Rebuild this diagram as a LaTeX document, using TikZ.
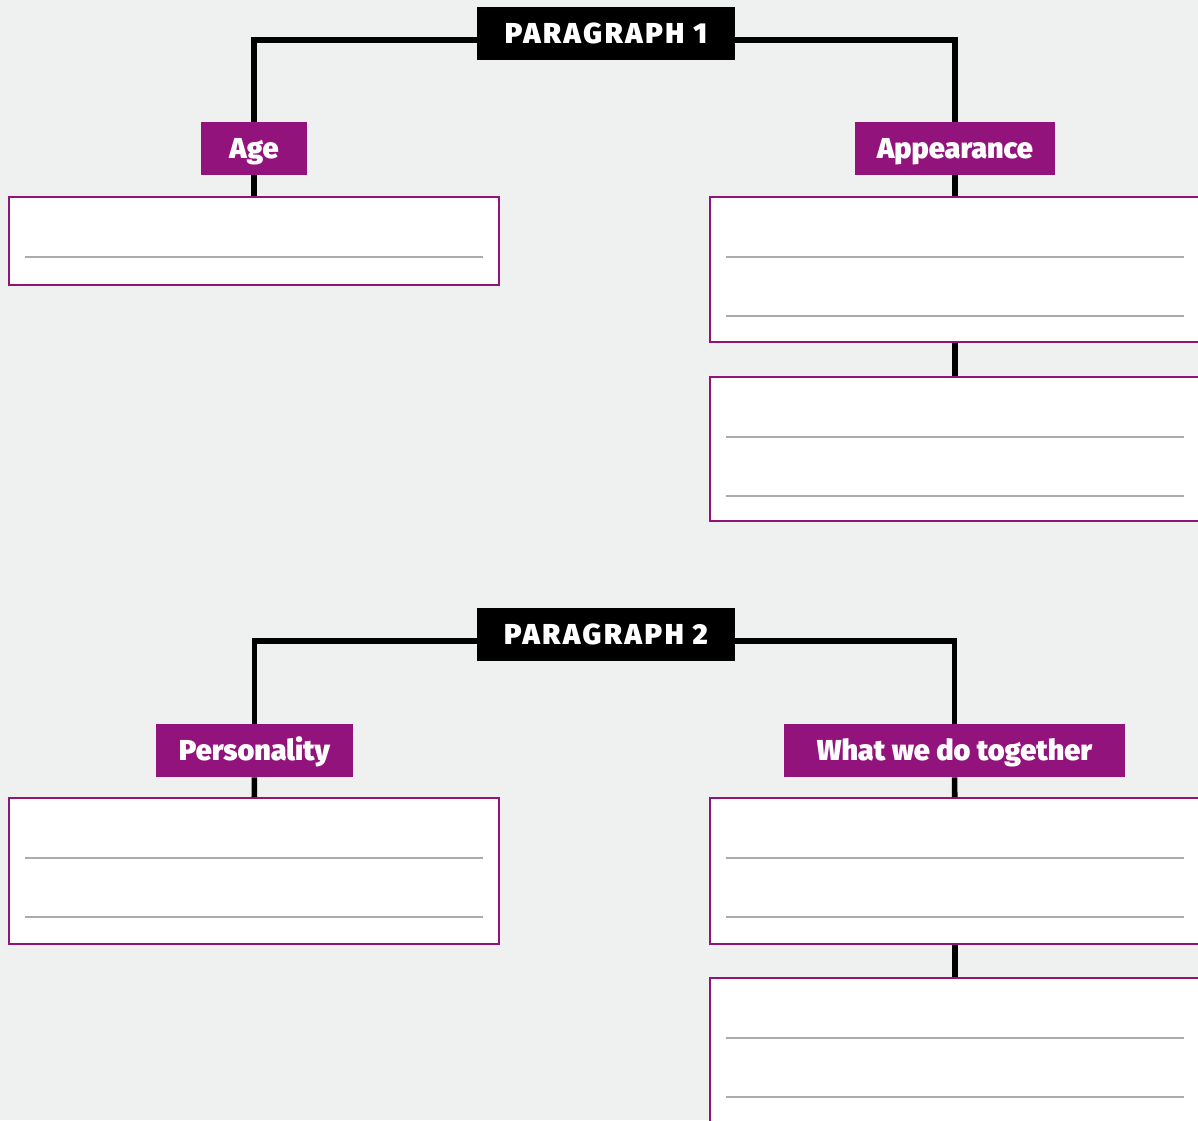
\documentclass[tikz,border=0pt]{standalone}
\usepackage{fontspec}
\setmainfont{Fira Sans}[BoldFont={Fira Sans Black}]
\newfontfamily\spacedfont{Fira Sans Black}[LetterSpace=9]
\definecolor{plum}{HTML}{93137D}
\definecolor{paper}{HTML}{EFF0F0}
\definecolor{ruling}{HTML}{ABABAB}
\tikzset{
	sheet/.style={font=\fontsize{16.4}{19}\selectfont\bfseries},
	heading/.style={fill=black, text=white, minimum width=5.16cm, minimum height=1.06cm,
	                inner sep=0pt, text height=11pt, text depth=0pt,
	                font=\fontsize{16.4}{19}\spacedfont},
	tag/.style={fill=plum, text=white, minimum height=1.06cm, inner sep=0pt,
	            text height=11pt, text depth=0pt},
	panel/.style={draw=plum, line width=1.1pt, fill=white, minimum width=9.8cm, inner sep=0pt},
	link/.style={line width=3.2pt},
	rule/.style={draw=ruling, line width=0.8pt},
}
\begin{document}
\begin{tikzpicture}[sheet]

\useasboundingbox (0,0) rectangle (23.96,-22.4);
\fill[paper] (0,0) rectangle (23.96,-22.4);

% paragraph 1
\node[heading] (par1) at (12.12,-0.67) {PARAGRAPH 1};
\node[tag, minimum width=2.12cm] (age) at (5.08,-2.97) {Age};
\node[tag, minimum width=4.0cm] (looks) at (19.10,-2.97) {Appearance};

\node[panel, minimum height=1.76cm] (age1) at (5.08,-4.82) {};
\node[panel, minimum height=2.90cm] (looks1) at (19.10,-5.39) {};
\node[panel, minimum height=2.88cm] (looks2) at (19.10,-8.98) {};

% paragraph 2
\node[heading] (par2) at (12.12,-12.69) {PARAGRAPH 2};
\node[tag, minimum width=3.94cm] (person) at (5.09,-15.01) {Personality};
\node[tag, minimum width=6.82cm] (together) at (19.09,-15.01) {What we do together};

\node[panel, minimum height=2.92cm] (person1) at (5.08,-17.42) {};
\node[panel, minimum height=2.92cm] (together1) at (19.10,-17.42) {};
\node[panel, minimum height=2.88cm] (together2) at (19.10,-21.0) {};

% writing lines
\foreach \p in {age1,looks1,looks2,person1,together1,together2}
  \draw[rule] ([shift={(0.34,-1.22)}]\p.north west) -- ([shift={(-0.34,-1.22)}]\p.north east);
\foreach \p in {looks1,looks2,person1,together1,together2}
  \draw[rule] ([shift={(0.34,-2.40)}]\p.north west) -- ([shift={(-0.34,-2.40)}]\p.north east);

% connectors
\draw[link] ([yshift=-0.13cm]par1.west) -| (age);
\draw[link] ([yshift=-0.13cm]par1.east) -| (looks);
\draw[link] (age) -- (age1);
\draw[link] (looks) -- (looks1);
\draw[link] (looks1) -- (looks2);

\draw[link] ([yshift=-0.13cm]par2.west) -| (person);
\draw[link] ([yshift=-0.13cm]par2.east) -| (together);
\draw[link] (person) -- (person1);
\draw[link] (together) -- (together1);
\draw[link] (together1) -- (together2);

\end{tikzpicture}
\end{document}
